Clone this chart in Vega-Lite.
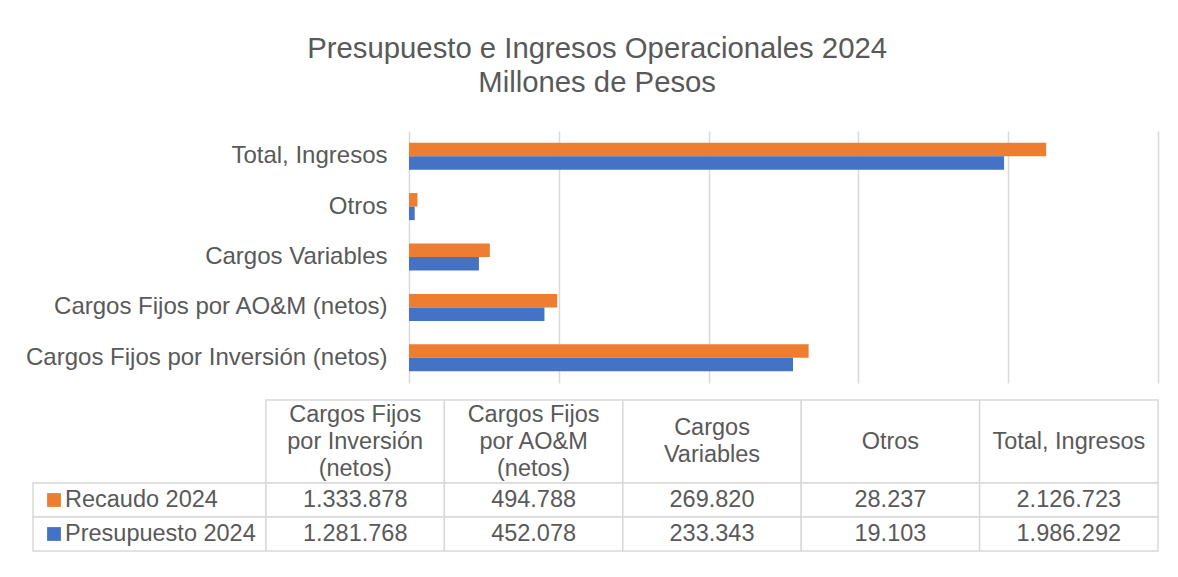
{
  "$schema": "https://vega.github.io/schema/vega-lite/v6.json",
  "background": "white",
  "padding": {"left": 25, "top": 34, "right": 20, "bottom": 10},
  "title": {
    "text": ["Presupuesto e Ingresos Operacionales 2024", "Millones de Pesos"],
    "fontSize": 29.3,
    "lineHeight": 34,
    "font": "Liberation Sans",
    "fontWeight": "normal",
    "color": "#595959",
    "anchor": "middle",
    "baseline": "bottom",
    "offset": 4,
    "dx": 5
  },
  "datasets": {
    "vals": [
      {"cat": "Cargos Fijos por Inversión (netos)", "series": "Recaudo 2024", "value": 1333878},
      {"cat": "Cargos Fijos por Inversión (netos)", "series": "Presupuesto 2024", "value": 1281768},
      {"cat": "Cargos Fijos por AO&M (netos)", "series": "Recaudo 2024", "value": 494788},
      {"cat": "Cargos Fijos por AO&M (netos)", "series": "Presupuesto 2024", "value": 452078},
      {"cat": "Cargos Variables", "series": "Recaudo 2024", "value": 269820},
      {"cat": "Cargos Variables", "series": "Presupuesto 2024", "value": 233343},
      {"cat": "Otros", "series": "Recaudo 2024", "value": 28237},
      {"cat": "Otros", "series": "Presupuesto 2024", "value": 19103},
      {"cat": "Total, Ingresos", "series": "Recaudo 2024", "value": 2126723},
      {"cat": "Total, Ingresos", "series": "Presupuesto 2024", "value": 1986292}
    ],
    "cats": [
      {"cat": "Cargos Fijos por Inversión (netos)", "header": "Cargos Fijos\npor Inversión\n(netos)", "lines": 3},
      {"cat": "Cargos Fijos por AO&M (netos)", "header": "Cargos Fijos\npor AO&M\n(netos)", "lines": 3},
      {"cat": "Cargos Variables", "header": "Cargos\nVariables", "lines": 2},
      {"cat": "Otros", "header": "Otros", "lines": 1},
      {"cat": "Total, Ingresos", "header": "Total, Ingresos", "lines": 1}
    ],
    "series": [
      {"series": "Recaudo 2024"},
      {"series": "Presupuesto 2024"}
    ]
  },
  "vconcat": [
    {
      "hconcat": [
        {
          "width": 376,
          "height": 252,
          "data": {"values": []},
          "mark": "point",
          "encoding": {}
        },
        {
          "width": 749,
          "height": 252,
          "data": {"name": "vals"},
          "mark": {"type": "bar"},
          "encoding": {
            "y": {
              "field": "cat",
              "type": "nominal",
              "sort": ["Total, Ingresos", "Otros", "Cargos Variables", "Cargos Fijos por AO&M (netos)", "Cargos Fijos por Inversión (netos)"],
              "scale": {"paddingInner": 0.464, "paddingOuter": 0.232},
              "axis": {
                "title": null,
                "ticks": false,
                "domain": false,
                "labelFontSize": 24,
                "labelColor": "#595959",
                "labelFont": "Liberation Sans",
                "labelPadding": 22,
                "labelLimit": 0
              }
            },
            "yOffset": {
              "field": "series",
              "type": "nominal",
              "sort": ["Recaudo 2024", "Presupuesto 2024"],
              "scale": {"paddingInner": 0, "paddingOuter": 0}
            },
            "x": {
              "field": "value",
              "type": "quantitative",
              "scale": {"domain": [0, 2500000], "nice": false},
              "axis": {
                "title": null,
                "labels": false,
                "ticks": false,
                "domain": false,
                "grid": true,
                "gridColor": "#D9D9D9",
                "gridWidth": 1.5,
                "values": [0, 500000, 1000000, 1500000, 2000000, 2500000]
              }
            },
            "color": {
              "field": "series",
              "type": "nominal",
              "scale": {"domain": ["Recaudo 2024", "Presupuesto 2024"], "range": ["#ED7D31", "#4472C4"]},
              "legend": null
            }
          }
        }
      ],
      "spacing": 0,
      "bounds": "flush"
    },
    {
      "concat": [
        {
          "width": 233,
          "height": 83,
          "data": {"values": []},
          "mark": "point",
          "encoding": {}
        },
        {
          "width": 892,
          "height": 83,
          "data": {"name": "cats"},
          "encoding": {
            "x": {
              "field": "cat",
              "type": "nominal",
              "sort": ["Cargos Fijos por Inversión (netos)", "Cargos Fijos por AO&M (netos)", "Cargos Variables", "Otros", "Total, Ingresos"],
              "scale": {"paddingInner": 0, "paddingOuter": 0},
              "axis": null
            }
          },
          "layer": [
            {"mark": {"type": "rect", "fill": "white", "stroke": "#D9D9D9", "strokeWidth": 1.5}},
            {
              "transform": [{"filter": "datum.lines == 3"}],
              "mark": {"type": "text", "lineBreak": "\n", "fontSize": 23.5, "lineHeight": 27, "font": "Liberation Sans", "color": "#595959", "baseline": "middle", "align": "center", "dy": -27},
              "encoding": {"text": {"field": "header"}}
            },
            {
              "transform": [{"filter": "datum.lines == 2"}],
              "mark": {"type": "text", "lineBreak": "\n", "fontSize": 23.5, "lineHeight": 27, "font": "Liberation Sans", "color": "#595959", "baseline": "middle", "align": "center", "dy": -13.5},
              "encoding": {"text": {"field": "header"}}
            },
            {
              "transform": [{"filter": "datum.lines == 1"}],
              "mark": {"type": "text", "fontSize": 23.5, "font": "Liberation Sans", "color": "#595959", "baseline": "middle", "align": "center"},
              "encoding": {"text": {"field": "header"}}
            }
          ]
        },
        {
          "width": 233,
          "height": 68,
          "data": {"name": "series"},
          "encoding": {
            "y": {
              "field": "series",
              "type": "nominal",
              "sort": ["Recaudo 2024", "Presupuesto 2024"],
              "scale": {"paddingInner": 0, "paddingOuter": 0},
              "axis": null
            }
          },
          "layer": [
            {"mark": {"type": "rect", "fill": "white", "stroke": "#D9D9D9", "strokeWidth": 1.5}},
            {
              "mark": {"type": "point", "shape": "square", "filled": true, "size": 190, "opacity": 1},
              "encoding": {
                "x": {"value": 21},
                "color": {
                  "field": "series",
                  "type": "nominal",
                  "scale": {"domain": ["Recaudo 2024", "Presupuesto 2024"], "range": ["#ED7D31", "#4472C4"]},
                  "legend": null
                }
              }
            },
            {
              "mark": {"type": "text", "fontSize": 23.5, "font": "Liberation Sans", "color": "#595959", "baseline": "middle", "align": "left"},
              "encoding": {"x": {"value": 32}, "text": {"field": "series"}}
            }
          ]
        },
        {
          "width": 892,
          "height": 68,
          "data": {"name": "vals"},
          "encoding": {
            "x": {
              "field": "cat",
              "type": "nominal",
              "sort": ["Cargos Fijos por Inversión (netos)", "Cargos Fijos por AO&M (netos)", "Cargos Variables", "Otros", "Total, Ingresos"],
              "scale": {"paddingInner": 0, "paddingOuter": 0},
              "axis": null
            },
            "y": {
              "field": "series",
              "type": "nominal",
              "sort": ["Recaudo 2024", "Presupuesto 2024"],
              "scale": {"paddingInner": 0, "paddingOuter": 0},
              "axis": null
            }
          },
          "layer": [
            {"mark": {"type": "rect", "fill": "white", "stroke": "#D9D9D9", "strokeWidth": 1.5}},
            {
              "mark": {"type": "text", "fontSize": 23.5, "font": "Liberation Sans", "color": "#595959", "baseline": "middle", "align": "center"},
              "encoding": {"text": {"field": "value", "type": "quantitative", "format": ",.0f"}}
            }
          ]
        }
      ],
      "columns": 2,
      "spacing": 0,
      "bounds": "flush"
    }
  ],
  "spacing": 16,
  "bounds": "full",
  "resolve": {"scale": {"color": "shared"}},
  "config": {
    "view": {"stroke": null},
    "font": "Liberation Sans",
    "locale": {
      "number": {"decimal": ",", "thousands": ".", "grouping": [3], "currency": ["$", ""]}
    }
  }
}
